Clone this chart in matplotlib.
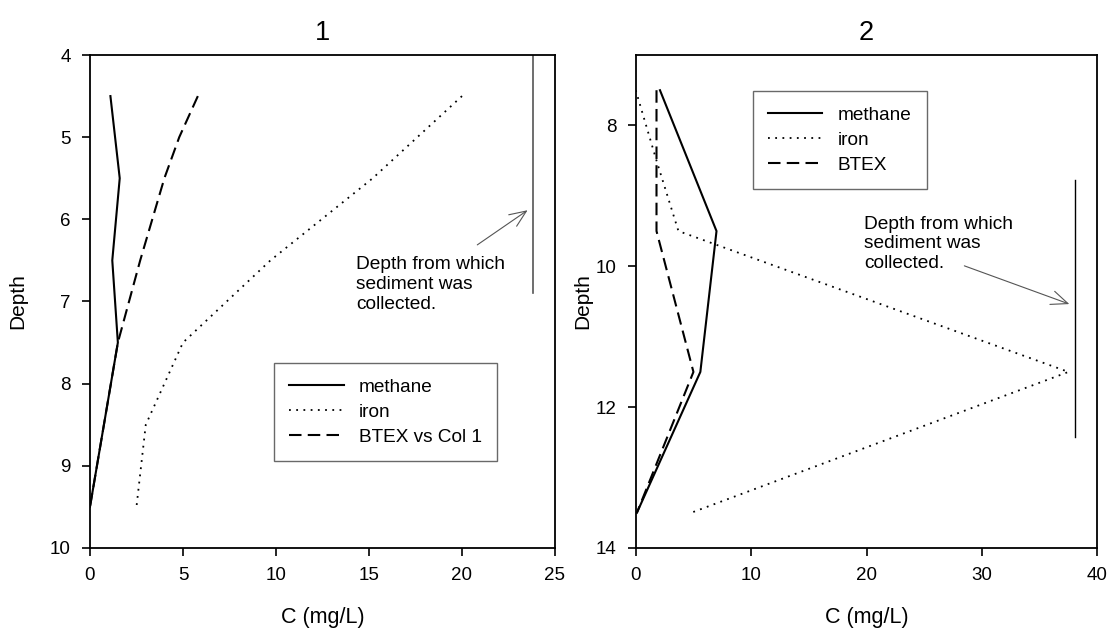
import matplotlib
matplotlib.use("Agg")
import matplotlib.pyplot as plt

plt.rcParams["font.family"] = ["Liberation Sans", "DejaVu Sans"]

# panel 1
depth1_methane = [4.5, 5.5, 6.5, 7.5, 9.5]
methane1 = [1.1, 1.6, 1.2, 1.5, 0.0]
depth1_iron = [4.5, 5.5, 6.5, 7.5, 8.5, 9.5]
iron1 = [20.0, 15.2, 9.7, 5.0, 3.0, 2.5]
depth1_btex = [4.5, 5.0, 5.5, 6.5, 7.5, 9.5]
btex1 = [5.8, 4.8, 4.0, 2.7, 1.5, 0.0]

# panel 2
depth2 = [7.5, 9.5, 11.5, 13.5]
methane2 = [2.1, 7.0, 5.6, 0.1]
btex2 = [1.8, 1.8, 5.0, 0.1]
depth2_iron = [7.5, 8.5, 9.5, 11.5, 13.5]
iron2 = [0.0, 1.8, 3.7, 37.5, 4.8]

note = "Depth from which\nsediment was\ncollected."
gray = "#555555"

fig = plt.figure(figsize=(11.12, 6.33), dpi=100)
ax1 = fig.add_axes([0.0809, 0.1343, 0.4182, 0.7788])
ax2 = fig.add_axes([0.5717, 0.1343, 0.4151, 0.7788])

lw = 1.5
leg_kw = dict(loc="upper left", fontsize=13.7, frameon=True, fancybox=False,
              edgecolor="#444444", handlelength=2.85, borderpad=0.8,
              labelspacing=0.4, handletextpad=0.8, borderaxespad=0)

ax1.plot(methane1, depth1_methane, color="black", lw=lw, label="methane")
ax1.plot(iron1, depth1_iron, color="black", lw=1.3, ls=(0, (1, 3)), label="iron")
ax1.plot(btex1, depth1_btex, color="black", lw=lw, ls=(0, (6, 3)), label="BTEX vs Col 1")
ax1.plot([23.8, 23.8], [4.0, 6.9], color=gray, lw=1.2)
ax1.annotate("", xy=(23.65, 5.87), xytext=(20.7, 6.33),
             arrowprops=dict(arrowstyle="->,head_length=1.2,head_width=0.5", color=gray, lw=0.8))
ax1.text(14.3, 6.45, note, fontsize=13.8, va="top", ha="left", linespacing=1.2)
ax1.set_xlim(0, 25)
ax1.set_ylim(10, 4)
ax1.set_xticks([0, 5, 10, 15, 20, 25])
ax1.set_yticks([4, 5, 6, 7, 8, 9, 10])
ax1.set_title("1", fontsize=19.5, pad=11)
ax1.legend(bbox_to_anchor=(0.396, 0.375), **leg_kw)
ax1.yaxis.set_label_coords(-0.1355, 0.5)

ax2.plot(methane2, depth2, color="black", lw=lw, label="methane")
ax2.plot(iron2, depth2_iron, color="black", lw=1.3, ls=(0, (1, 3)), label="iron")
ax2.plot(btex2, depth2, color="black", lw=lw, ls=(0, (6, 3)), label="BTEX")
ax2.plot([38.1, 38.1], [8.77, 12.43], color="black", lw=1.0)
ax2.annotate("", xy=(37.8, 10.55), xytext=(28.25, 9.98),
             arrowprops=dict(arrowstyle="->,head_length=1.2,head_width=0.5", color=gray, lw=0.8))
ax2.text(19.8, 9.28, note, fontsize=13.8, va="top", ha="left", linespacing=1.2)
ax2.set_xlim(0, 40)
ax2.set_ylim(14, 7)
ax2.set_xticks([0, 10, 20, 30, 40])
ax2.set_yticks([8, 10, 12, 14])
ax2.set_title("2", fontsize=19.5, pad=11)
ax2.legend(bbox_to_anchor=(0.254, 0.926), **leg_kw)
ax2.yaxis.set_label_coords(-0.0947, 0.5)

for ax in (ax1, ax2):
    ax.set_xlabel("C (mg/L)", fontsize=15.5)
    ax.set_ylabel("Depth", fontsize=15)
    ax.xaxis.set_label_coords(0.5, -0.120)
    ax.tick_params(direction="out", length=6, width=1.2, labelsize=13.5, pad=8)
    for s in ax.spines.values():
        s.set_linewidth(1.3)

fig.savefig("out.png", dpi=100)
